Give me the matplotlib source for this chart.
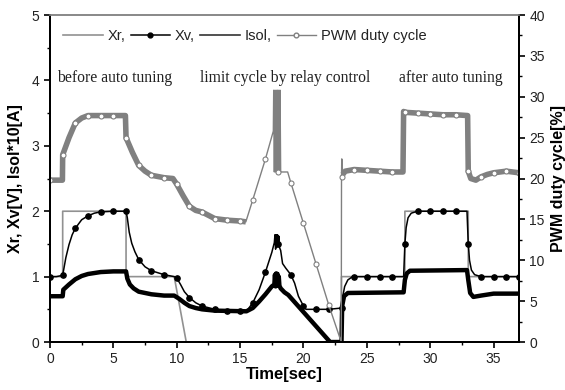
import numpy as np
import matplotlib
matplotlib.use('Agg')
from matplotlib import pyplot as plt
from matplotlib.lines import Line2D

plt.rcParams['font.family'] = ['Liberation Sans', 'DejaVu Sans']

# Xr reference [V]
xr_t = [0, 1, 1, 6, 6, 9.8, 10.75, 23, 23, 28, 28, 33, 33, 37]
xr_v = [1, 1, 2, 2, 1, 1, 0, 0, 1, 1, 2, 2, 1, 1]

# Xv valve position [V]
xv_t = [0, 0.5, 1.0, 1.25, 1.5, 1.75, 2.0, 2.5, 3.0, 3.5, 4.0, 5.0, 6.0, 6.1, 6.25, 6.45,
        6.7, 7.0, 7.5, 8.0, 9.0, 9.8, 10.0, 10.3, 10.6, 11.0, 11.5, 12.0, 13.0, 14.0, 15.0,
        15.5, 16.0, 16.5, 17.0, 17.5, 17.7, 17.75, 17.8, 17.85, 17.9, 17.95, 18.0, 18.05,
        18.1, 18.2, 18.35, 18.6, 19.0, 19.3, 19.6, 20.0, 20.2, 21.0, 22.0, 23.0, 23.1, 23.25,
        23.5, 23.8, 24.0, 25.0, 26.0, 27.0, 27.9, 28.0, 28.1, 28.25, 28.5, 29.0, 30.0, 31.0,
        32.0, 32.9, 33.0, 33.1, 33.25, 33.5, 34.0, 35.0, 36.0, 37.0]
xv_v = [1.0, 1.0, 1.02, 1.29, 1.49, 1.64, 1.74, 1.87, 1.93, 1.97, 1.99, 2.0, 2.0, 1.9, 1.68, 1.51,
        1.38, 1.26, 1.15, 1.09, 1.03, 1.0, 0.98, 0.88, 0.77, 0.68, 0.6, 0.55, 0.5, 0.48, 0.47,
        0.47, 0.6, 0.8, 1.07, 1.37, 1.52, 1.64, 1.42, 1.64, 1.45, 1.64, 1.5, 1.62,
        1.45, 1.4, 1.2, 1.13, 1.03, 0.9, 0.7, 0.55, 0.5, 0.5, 0.5, 0.52, 0.7, 0.85,
        0.95, 0.99, 1.0, 1.0, 1.0, 1.0, 1.0, 1.5, 1.75, 1.9, 1.97, 2.0, 2.0, 2.0,
        2.0, 2.0, 1.5, 1.25, 1.1, 1.03, 1.0, 1.0, 1.0, 1.0]

# Isol*10 [A]
is_t = [0, 1.0, 1.05, 1.5, 2.0, 2.5, 3.0, 4.0, 5.0, 6.0, 6.1, 6.3, 6.6, 7.0, 8.0, 9.0, 9.8,
        10.2, 10.6, 11.0, 11.5, 12.0, 13.0, 15.5, 16.0, 16.5, 17.0, 17.5, 17.7, 17.75, 17.8,
        17.85, 17.9, 17.95, 18.0, 18.05, 18.1, 18.2, 18.5, 18.8, 22.1, 23.0, 23.05, 23.2,
        23.5, 27.9, 28.0, 28.15, 28.4, 32.9, 33.0, 33.15, 33.4, 34.0, 35.0, 37.0]
is_v = [0.70, 0.70, 0.8, 0.88, 0.96, 1.01, 1.04, 1.07, 1.08, 1.08, 0.97, 0.88, 0.82, 0.77, 0.73,
        0.71, 0.71, 0.66, 0.6, 0.55, 0.52, 0.5, 0.48, 0.47, 0.52, 0.62, 0.73, 0.85, 0.88, 1.03,
        0.85, 1.05, 0.86, 1.04, 0.87, 1.0, 0.86, 0.82, 0.76, 0.72, 0.0, 0.0, 0.55, 0.7,
        0.75, 0.76, 0.95, 1.05, 1.09, 1.1, 0.95, 0.75, 0.69, 0.71, 0.74, 0.74]

# PWM duty cycle [%]
pwm_t = [0, 0.98, 1.0, 1.5, 2.0, 2.5, 3.0, 4.0, 5.0, 5.95, 6.0, 6.5, 7.0, 7.5, 8.0, 9.0, 9.7,
         10.0, 10.5, 11.0, 11.5, 12.0, 13.0, 14.0, 15.0, 15.45, 16.0, 17.0, 17.62, 17.65, 17.7,
         17.75, 17.8, 17.85, 17.9, 17.95, 18.0, 18.05, 18.1, 18.15, 18.2, 18.75, 19.0, 20.0,
         21.0, 22.0, 22.98, 23.0, 23.02, 23.1, 23.3, 24.0, 25.0, 26.0, 27.0, 27.85, 27.9, 28.0,
         29.0, 30.0, 31.0, 32.0, 32.95, 33.0, 33.2, 33.6, 34.0, 34.5, 35.0, 35.5, 36.0, 37.0]
pwm_v = [19.8, 19.8, 22.9, 25.0, 26.8, 27.4, 27.7, 27.7, 27.7, 27.7, 25.0, 23.2, 21.6, 20.9, 20.4,
         20.1, 20.0, 19.3, 17.9, 16.6, 16.1, 15.9, 15.1, 14.9, 14.8, 14.7, 17.4, 22.4, 25.8, 30.8,
         20.8, 30.8, 20.8, 30.8, 20.8, 30.8, 20.8, 30.8, 20.8, 30.8, 20.8, 20.8, 19.5, 14.5,
         9.5, 4.5, 0.0, 20.2, 22.4, 20.5, 20.9, 21.1, 21.0, 20.9, 20.8, 20.8, 28.2, 28.1,
         28.0, 27.9, 27.8, 27.8, 27.7, 20.9, 20.0, 19.8, 20.2, 20.5, 20.7, 20.8, 20.9, 20.7]

annotations = ["before auto tuning", "limit cycle by relay control", "after auto tuning"]
annot_t = [0.55, 11.85, 27.5]

gray = '#919191'
pgray = '#808080'
txt = '#222222'

fig = plt.figure(figsize=(5.65, 3.9), dpi=100)
ax = fig.add_axes([0.0885, 0.123, 0.830, 0.8385])
ax2 = ax.twinx()

xv_t_a = np.array(xv_t)
pwm_t_a = np.array(pwm_t)
pwm_v_a = np.array(pwm_v)

ax.plot(xr_t, xr_v, color=gray, lw=1.2, zorder=2)
ax.plot(is_t, is_v, color='black', lw=3.2, zorder=3)
ax.plot(xv_t, xv_v, color='black', lw=1.1, marker='o', ms=3.8,
        markevery=list(np.isclose(xv_t_a, np.round(xv_t_a))), zorder=4)

# noisy band parts of the PWM signal
band1 = pwm_t_a <= 15.45
band2 = pwm_t_a >= 23.1
ax2.plot(pwm_t_a[band1], pwm_v_a[band1], color=pgray, lw=4.0, solid_capstyle='butt')
ax2.plot(pwm_t_a[band2], pwm_v_a[band2], color=pgray, lw=4.0, solid_capstyle='butt')
ax2.plot(pwm_t, pwm_v, color=pgray, lw=1.0, marker='o', ms=3.6, mfc='white', mec=pgray,
         mew=0.8, markevery=list(np.isclose(pwm_t_a, np.round(pwm_t_a))))

for s, t0 in zip(annotations, annot_t):
    ax.text(t0, 4.03, s, family=['Liberation Serif', 'DejaVu Serif'], fontsize=11.3,
            color=txt, va='center', ha='left')

ax.set_xlim(0, 37)
ax.set_ylim(0, 5)
ax2.set_ylim(0, 40)
ax.set_xticks(np.arange(0, 36, 5))
ax.set_xticks(np.arange(0, 37.1, 2.5), minor=True)
ax.set_yticks(np.arange(0, 5.1, 1))
ax.set_yticks(np.arange(0, 5.1, 0.5), minor=True)
ax2.set_yticks(np.arange(0, 41, 5))
ax2.set_yticks(np.arange(0, 41, 2.5), minor=True)

for a in (ax, ax2):
    a.tick_params(which='major', direction='out', length=4, width=1.2, labelsize=10, colors='black',
                  labelcolor=txt)
    a.tick_params(which='minor', direction='out', length=2.5, width=1.0)
    for sp in a.spines.values():
        sp.set_linewidth(1.4)
    a.spines['top'].set_color('#888888')
    a.spines['top'].set_linewidth(1.2)

ax.set_xlabel('Time[sec]', fontsize=12, fontweight='bold', labelpad=1)
ax.xaxis.set_label_coords(0.5, -0.075)
ax.set_ylabel('Xr, Xv[V], Isol*10[A]', fontsize=11.5, fontweight='bold', labelpad=6)
ax2.set_ylabel('PWM duty cycle[%]', fontsize=11.5, fontweight='bold', labelpad=4)

handles = [Line2D([], [], color=gray, lw=1.2),
           Line2D([], [], color='black', lw=1.1, marker='o', ms=3.5),
           Line2D([], [], color='#333333', lw=1.2),
           Line2D([], [], color=pgray, lw=1.0, marker='o', ms=3.4, mfc='white', mec=pgray)]
ax2.legend(handles, ['Xr,', 'Xv,', 'Isol,', 'PWM duty cycle'], loc='center left',
           bbox_to_anchor=(0.0, 0.935), ncol=4, frameon=False, fontsize=10.5,
           handlelength=2.7, handletextpad=0.35, columnspacing=0.35, labelcolor=txt)

fig.savefig('out.png', dpi=100)
